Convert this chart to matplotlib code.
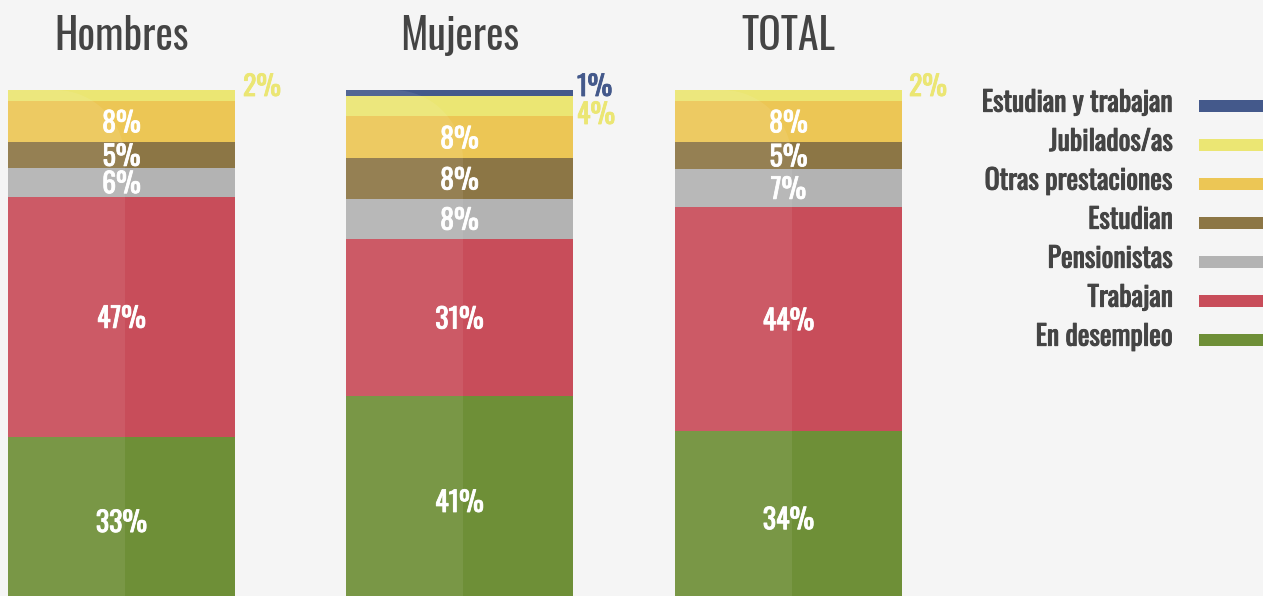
import matplotlib

matplotlib.use("Agg")
import matplotlib.patheffects as pe  # noqa: E402
import matplotlib.pyplot as plt  # noqa: E402
import numpy as np  # noqa: E402
from matplotlib import font_manager  # noqa: E402
from matplotlib.patches import Polygon  # noqa: E402

W, H = 1263, 596
BG = "#f5f5f5"
INK = "#444444"

# stacked from the top of each bar down
categories = [
    "Estudian y trabajan",
    "Jubilados/as",
    "Otras prestaciones",
    "Estudian",
    "Pensionistas",
    "Trabajan",
    "En desempleo",
]
colors = ["#44598b", "#ebe673", "#ecc655", "#8c7645", "#b3b3b3", "#c84d5a", "#6e8f37"]
groups = ["Hombres", "Mujeres", "TOTAL"]
hombres = [0, 2.1, 8.0, 5.0, 5.6, 46.7, 32.6]
mujeres = [1.2, 3.9, 8.2, 7.8, 7.8, 30.6, 40.6]
total = [0, 2.1, 8.0, 5.2, 7.4, 43.6, 33.7]
series = [hombres, mujeres, total]

BAR_LEFT = [8, 346, 675]  # px
BAR_W, BAR_TOP, BAR_H = 227, 90, 515


def pick_font():
    # the original uses a tall condensed face; take whatever narrow face exists
    fl = font_manager.fontManager.ttflist
    names = {f.name for f in fl}
    for n in ("Oswald", "Roboto Condensed", "Open Sans Condensed", "Liberation Sans Narrow",
              "Noto Sans Display", "Arial Narrow"):
        if n in names:
            return n, "normal"
    for f in fl:
        if f.name in ("DejaVu Sans", "Noto Sans", "Roboto", "Open Sans") and f.stretch in (
            "condensed", "semi-condensed", "extra-condensed", 75, 87.5, 62.5
        ):
            return f.name, "condensed"
    return "Roboto", "normal"


FAMILY, STRETCH = pick_font()
FONT = dict(family=[FAMILY, "DejaVu Sans"], fontstretch=STRETCH)


def heavy(color, lw):
    # fake a heavier weight where the condensed face has only one
    return [pe.withStroke(linewidth=lw, foreground=color)]


def px_axes(fig, left, top, width, height):
    return fig.add_axes([left / W, 1 - (top + height) / H, width / W, height / H])


def gloss(ax):
    # lighter left half with a rounded top-right corner
    r, half = 70, 117
    t = np.linspace(0, np.pi / 2, 30)
    arc_x = half - r + r * np.sin(t)
    arc_y = r - r * np.cos(t)
    xs = np.concatenate([[0], arc_x, [half, 0]])
    ys = np.concatenate([[0], arc_y, [BAR_H, BAR_H]])
    pts = np.column_stack([xs / BAR_W, 1 - ys / BAR_H])
    ax.add_patch(
        Polygon(pts, closed=True, transform=ax.transAxes, facecolor="white",
                edgecolor="none", alpha=0.08, zorder=3)
    )


fig = plt.figure(figsize=(W / 100, H / 100), dpi=100, facecolor=BG)

out_dx = [8, 4, 7]
for left, name, vals, dx in zip(BAR_LEFT, groups, series, out_dx):
    ax = px_axes(fig, left, BAR_TOP, BAR_W, BAR_H)
    ax.set_xlim(-0.5, 0.5)
    ax.set_ylim(100, 0)
    ax.axis("off")

    cum = 0.0
    k = 0
    for v, c in zip(vals, colors):
        if v <= 0:
            continue
        ax.bar(0, v, bottom=cum, width=1, color=c, lw=0, zorder=2)
        if v >= 4.5:
            ax.text(0, cum + v / 2, f"{v:.0f}%", ha="center", va="center_baseline",
                    fontsize=20, fontweight="bold", color="white", zorder=5,
                    path_effects=heavy("white", 0.6), **FONT)
        else:
            ax.annotate(f"{v:.0f}%", xy=(0.5, 0), xycoords="data",
                        xytext=(dx, 5 - 28 * k), textcoords="offset pixels",
                        ha="left", va="center_baseline", fontsize=20, fontweight="bold",
                        color=c, annotation_clip=False, zorder=5,
                        path_effects=heavy(c, 0.6), **FONT)
            k += 1
        cum += v
    gloss(ax)

    ax.annotate(name, xy=(0.5, 1), xycoords="axes fraction", xytext=(0, 40),
                textcoords="offset pixels", ha="center", va="baseline",
                fontsize=30, color=INK, annotation_clip=False, **FONT)

# legend: colour strips on the right edge, labels right-aligned before them
lg = px_axes(fig, 1199, 86.3, 64, 273)
lg.set_xlim(0, 1)
lg.set_ylim(6.5, -0.5)
lg.axis("off")
lg.barh(range(len(categories)), 1, height=0.3, color=colors, lw=0)
for i, lab in enumerate(categories):
    lg.annotate(lab, xy=(0, i + 0.15), xycoords="data", xytext=(-26, 0),
                textcoords="offset pixels", ha="right", va="baseline",
                fontsize=20, fontweight="bold", color=INK,
                annotation_clip=False, path_effects=heavy(INK, 0.7), **FONT)

fig.savefig("out.png", dpi=100, facecolor=BG)
